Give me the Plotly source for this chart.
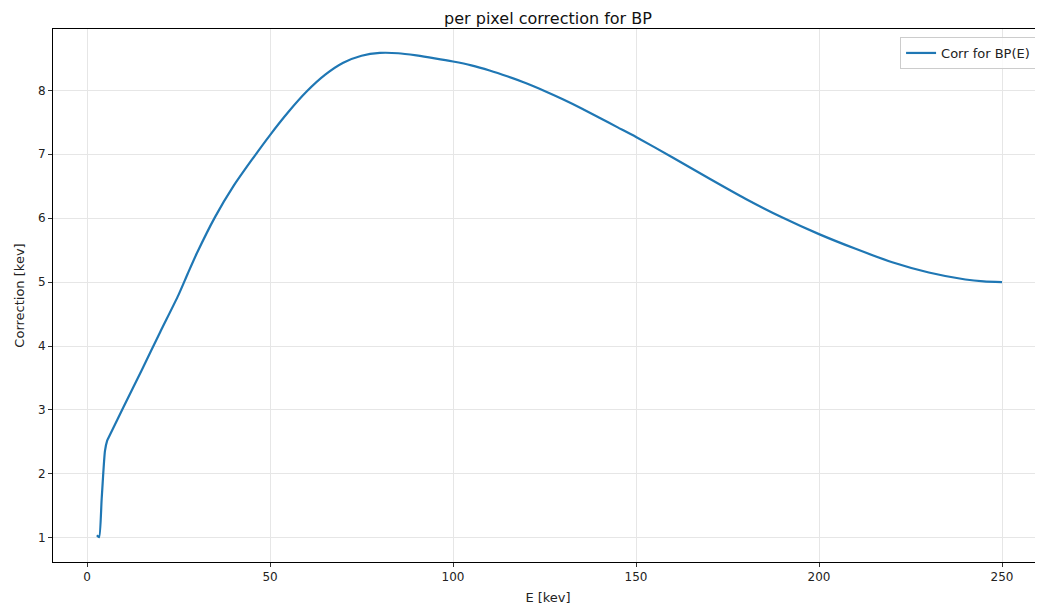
import plotly.graph_objects as go

E_kev = [2.7, 3.3, 4.0, 4.9, 5.5, 5.9, 6.5, 10, 15, 20, 25, 27.5, 30, 35, 40, 45,
         50, 55, 60, 65, 70, 75, 80, 85, 90, 95, 100, 105, 110, 115, 120, 125, 130,
         135, 140, 145, 150, 160, 170, 180, 190, 200, 210, 220, 230, 240, 245, 250]
corr_kev = [1.04, 1.01, 1.61, 2.36, 2.52, 2.57, 2.64, 3.05, 3.63, 4.22, 4.80, 5.13,
            5.45, 6.02, 6.50, 6.91, 7.30, 7.66, 7.98, 8.24, 8.43, 8.54, 8.585, 8.58,
            8.545, 8.50, 8.45, 8.39, 8.31, 8.215, 8.11, 7.99, 7.86, 7.72, 7.57, 7.42,
            7.27, 6.95, 6.62, 6.30, 6.01, 5.75, 5.52, 5.31, 5.15, 5.04, 5.01, 5.00]

x_ticks = [0, 50, 100, 150, 200, 250]
y_ticks = [1, 2, 3, 4, 5, 6, 7, 8]

font = "DejaVu Sans, sans-serif"
fig = go.Figure()
fig.add_trace(go.Scatter(x=E_kev, y=corr_kev, mode="lines", name="Corr for BP(E)",
                         line=dict(color="#1f77b4", width=2.2, shape="spline", smoothing=0.6)))

axis_common = dict(showline=True, linecolor="black", linewidth=1, mirror=True,
                   ticks="outside", ticklen=4, tickcolor="#333", tickwidth=1,
                   showgrid=True, gridcolor="#e6e6e6", gridwidth=1, zeroline=False,
                   tickfont=dict(family=font, size=12, color="#222"))

fig.update_layout(
    width=1035, height=603,
    margin=dict(l=45, r=0, t=21, b=49),
    paper_bgcolor="white", plot_bgcolor="white",
    title=dict(text="per pixel correction for BP", x=0.5, xref="paper", xanchor="center",
               y=0.9834, yanchor="middle", pad=dict(t=0, b=0),
               font=dict(family=font, size=16, color="#111")),
    xaxis=dict(range=[-9.3, 261.2], tickvals=x_ticks,
               title=dict(text="E [kev]", font=dict(family=font, size=13, color="#222"), standoff=9),
               **axis_common),
    yaxis=dict(range=[0.621, 8.959], tickvals=y_ticks,
               title=dict(text="Correction [kev]", font=dict(family=font, size=13, color="#222"), standoff=10),
               **axis_common),
    legend=dict(x=0.993, y=0.985, xanchor="right", yanchor="top",
                bgcolor="rgba(255,255,255,0.8)", bordercolor="#cccccc", borderwidth=1,
                font=dict(family=font, size=13, color="#222")),
    showlegend=True,
)

fig.write_html("out.html")
